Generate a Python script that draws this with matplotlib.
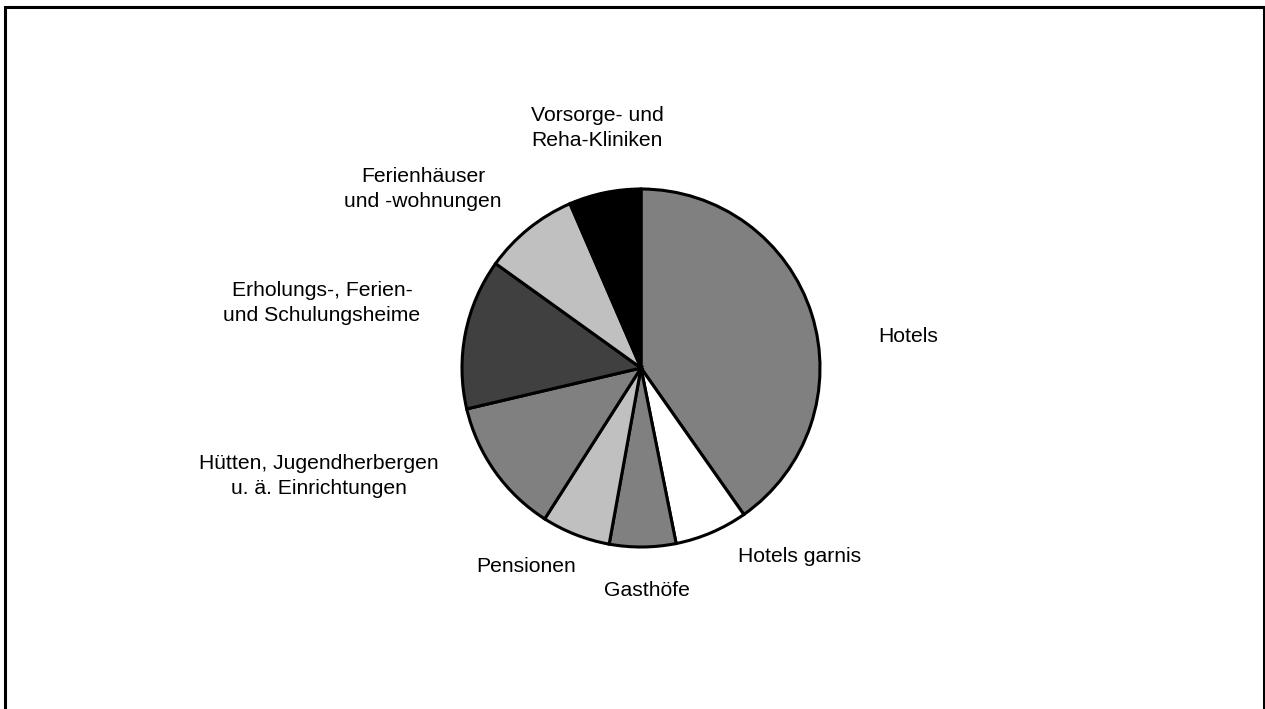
import matplotlib.pyplot as plt
from matplotlib.patches import Rectangle

# shares of beds / establishments by type (percent)
categories = ['Hotels', 'Hotels garnis', 'Gasthöfe', 'Pensionen',
              'Hütten, Jugendherbergen\nu. ä. Einrichtungen',
              'Erholungs-, Ferien-\nund Schulungsheime',
              'Ferienhäuser\nund -wohnungen',
              'Vorsorge- und\nReha-Kliniken']
shares = [40.3, 6.6, 6.0, 6.2, 12.3, 13.6, 8.6, 6.5]
colors = ['#808080', '#ffffff', '#808080', '#c0c0c0',
          '#808080', '#404040', '#c0c0c0', '#000000']

# label centres in pixel space (x from left, y from top)
label_pos = [(908, 336), (800, 556), (647, 591), (526, 567),
             (319, 476), (322, 303), (423, 189), (597, 128)]

W, H = 1265, 709
fig = plt.figure(figsize=(W / 100, H / 100), dpi=100)
ax = fig.add_axes([0, 0, 1, 1])

cx, cy, r = 641, 368, 179
ax.pie(shares, colors=colors, startangle=90, counterclock=False,
       center=(cx, H - cy), radius=r,
       wedgeprops=dict(edgecolor='black', linewidth=2.2))

for lab, (x, y) in zip(categories, label_pos):
    ax.text(x, H - y, lab, ha='center', va='center', fontsize=15.2,
            family='Liberation Sans', linespacing=1.35)

# frame around the chart (bottom edge runs off the image)
ax.add_patch(Rectangle((5, -20), 1258.5, H - 7 + 20, fill=False,
                       edgecolor='black', linewidth=2.2))

ax.set_xlim(0, W)
ax.set_ylim(0, H)
ax.set_aspect('equal')
ax.axis('off')

fig.savefig('out.png', dpi=100, facecolor='white')
